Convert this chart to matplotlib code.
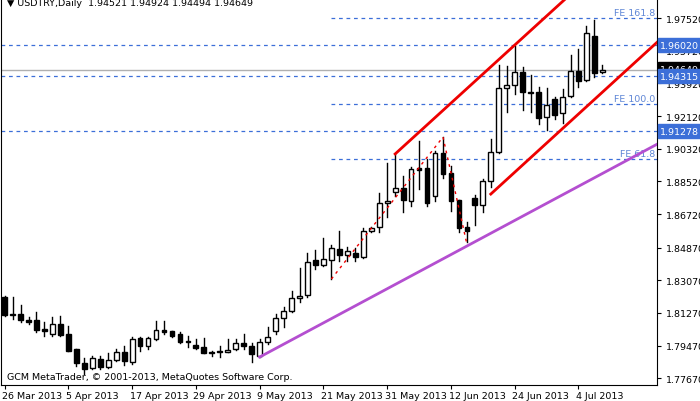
import matplotlib
matplotlib.use("Agg")
import matplotlib.pyplot as plt
from matplotlib.patches import Rectangle

# daily USDTRY candles, 26 Mar 2013 .. 8 Jul 2013
opens = [1.8215, 1.8116, 1.8121, 1.8088, 1.8088, 1.8039, 1.8011, 1.8066, 1.8011, 1.7928, 1.7851, 1.7824, 1.7873, 1.7829, 1.7868, 1.7912, 1.7857, 1.7989, 1.7945, 1.7983, 1.8033, 1.8027, 1.8011, 1.7972, 1.795, 1.7939, 1.7912, 1.7917, 1.7912, 1.7928, 1.7961, 1.7945, 1.789, 1.7967, 1.8027, 1.8099, 1.8138, 1.821, 1.8226, 1.8419, 1.8391, 1.8419, 1.8479, 1.8446, 1.8457, 1.8435, 1.8578, 1.86, 1.8733, 1.8793, 1.8815, 1.8744, 1.8926, 1.8926, 1.8771, 1.9008, 1.8898, 1.8749, 1.86, 1.876, 1.8721, 1.8854, 1.9014, 1.9366, 1.9383, 1.9454, 1.9344, 1.9344, 1.9207, 1.9306, 1.9228, 1.9322, 1.946, 1.941, 1.9653, 1.9452]
closes = [1.8116, 1.8116, 1.8088, 1.8077, 1.8033, 1.8027, 1.8066, 1.8005, 1.7917, 1.7851, 1.7818, 1.7879, 1.7829, 1.7868, 1.7912, 1.7862, 1.7983, 1.7945, 1.7989, 1.8033, 1.8022, 1.8, 1.7967, 1.7967, 1.7934, 1.7906, 1.7906, 1.7912, 1.7923, 1.7961, 1.7945, 1.7901, 1.7967, 1.7994, 1.8099, 1.8138, 1.821, 1.822, 1.8408, 1.8391, 1.8424, 1.8485, 1.8446, 1.8468, 1.8435, 1.8578, 1.8595, 1.8733, 1.8744, 1.8815, 1.8749, 1.892, 1.8915, 1.8733, 1.9008, 1.8892, 1.8744, 1.8595, 1.8578, 1.8721, 1.8854, 1.9014, 1.9366, 1.9383, 1.9454, 1.9344, 1.9339, 1.9201, 1.9273, 1.9218, 1.9317, 1.946, 1.9405, 1.967, 1.9449, 1.9465]
highs = [1.822, 1.8215, 1.8171, 1.8105, 1.8132, 1.8077, 1.8105, 1.811, 1.8055, 1.7928, 1.7879, 1.789, 1.789, 1.7906, 1.7928, 1.7945, 1.7994, 1.7994, 1.7994, 1.8083, 1.8083, 1.8027, 1.8022, 1.8, 1.7983, 1.7989, 1.7917, 1.7945, 1.7983, 1.7983, 1.8011, 1.7961, 1.7983, 1.805, 1.8121, 1.816, 1.8248, 1.8375, 1.8457, 1.8474, 1.854, 1.8501, 1.8578, 1.849, 1.8485, 1.8595, 1.86, 1.8788, 1.8953, 1.9003, 1.8881, 1.8931, 1.9074, 1.8975, 1.9019, 1.9096, 1.8937, 1.8749, 1.8628, 1.8777, 1.8865, 1.9085, 1.9493, 1.9488, 1.9598, 1.9482, 1.9438, 1.9372, 1.9366, 1.9317, 1.9361, 1.9548, 1.9581, 1.9708, 1.9741, 1.9492]
lows = [1.811, 1.8094, 1.8077, 1.8066, 1.8022, 1.8, 1.8, 1.8, 1.7917, 1.7835, 1.7791, 1.7818, 1.7818, 1.7824, 1.7862, 1.784, 1.7846, 1.7917, 1.7928, 1.7978, 1.8011, 1.7994, 1.7961, 1.7939, 1.7928, 1.7906, 1.789, 1.7884, 1.7912, 1.7923, 1.7928, 1.7857, 1.7884, 1.7956, 1.8011, 1.805, 1.8132, 1.8187, 1.8215, 1.8369, 1.8386, 1.8314, 1.8413, 1.8413, 1.8413, 1.843, 1.8573, 1.8573, 1.8656, 1.8771, 1.8683, 1.8716, 1.881, 1.8716, 1.8744, 1.887, 1.8689, 1.8573, 1.8518, 1.8612, 1.8683, 1.8821, 1.9008, 1.9234, 1.9333, 1.9245, 1.9234, 1.9168, 1.9135, 1.9196, 1.9173, 1.9317, 1.9372, 1.9405, 1.9427, 1.9449]

date_labels = ["26 Mar 2013", "5 Apr 2013", "17 Apr 2013", "29 Apr 2013", "9 May 2013",
               "21 May 2013", "31 May 2013", "12 Jun 2013", "24 Jun 2013", "4 Jul 2013"]
price_ticks = [1.9752, 1.9572, 1.9392, 1.9212, 1.9032, 1.8852, 1.8672, 1.8487, 1.8307, 1.8127, 1.7947, 1.7767]
price_labels = ["1.97520", "1.95720", "1.93920", "1.92120", "1.90320", "1.88520", "1.86720",
                "1.84870", "1.83070", "1.81270", "1.79470", "1.77670"]

# horizontal levels
hlines = [1.9602, 1.94315, 1.91278]
fe_levels = [1.9752, 1.9278, 1.8975]
fe_names = ["FE 161.8", "FE 100.0", "FE 61.8"]

# trend lines: (bar, price) pairs
upper_channel = ([49, 71], [1.9003, 1.9883])
lower_channel = ([61, 82], [1.8782, 1.9624])
support_line = ([32, 82], [1.7884, 1.9060])
zigzag = ([41, 55, 58], [1.8314, 1.9096, 1.8507])

fs = 6.8
fig = plt.figure(figsize=(7.0, 4.02), dpi=100)
ax = fig.add_axes([0.002, 16 / 402, 656 / 700, 1 - 16 / 402])
xmin, xmax = -0.4, 81.9
ymin, ymax = 1.7730, 1.98567
ax.set_xlim(xmin, xmax)
ax.set_ylim(ymin, ymax)

blue = "#3c6fd8"
for lv in hlines:
    ax.axhline(lv, color=blue, lw=0.9, ls=(0, (3, 3)), zorder=1)
for lv, nm in zip(fe_levels, fe_names):
    ax.plot([41, xmax], [lv, lv], color=blue, lw=0.9, ls=(0, (3, 3)), zorder=1)
    ax.text(xmax - 0.3, lv + 0.0008, nm, color="#5f86d6", fontsize=fs, ha="right", va="bottom")
ax.axhline(closes[-1], color="#b0b0b0", lw=1.0, zorder=1)

for i in range(len(opens)):
    o, c, h, l = opens[i], closes[i], highs[i], lows[i]
    ax.plot([i, i], [l, h], color="black", lw=1.0, zorder=3)
    lo, hi = min(o, c), max(o, c)
    face = "black" if c < o else "white"
    ax.add_patch(Rectangle((i - 0.3, lo), 0.6, max(hi - lo, 0.0003),
                           facecolor=face, edgecolor="black", lw=1.0, zorder=4))

ax.plot(*upper_channel, color="#ee0000", lw=2.0, zorder=5)
ax.plot(*lower_channel, color="#ee0000", lw=2.0, zorder=5)
ax.plot(*support_line, color="#b44fd0", lw=2.0, zorder=5)
ax.plot(*zigzag, color="#ee0000", lw=1.0, ls=(0, (2, 3)), zorder=5)

ax.set_xticks(range(0, 80, 8))
ax.set_xticklabels([])
ax.tick_params(axis="x", direction="out", length=3, color="black")
for k, lab in enumerate(date_labels):
    ax.text(k * 8 - 0.3, ymin - 0.0035, lab, fontsize=fs, ha="left", va="top", clip_on=False)

ax.yaxis.tick_right()
ax.set_yticks(price_ticks)
ax.set_yticklabels(price_labels, fontsize=fs)
ax.tick_params(axis="y", direction="out", length=3, pad=3)
ax.spines["top"].set_visible(False)

# price tags on the right axis
def tag(y, text, bg):
    ax.text(xmax + 0.35, y, text, fontsize=fs, color="white", ha="left", va="center",
            bbox=dict(boxstyle="square,pad=0.25", fc=bg, ec=bg), clip_on=False, zorder=10)

tag(closes[-1] + 0.0006, "1.94649", "black")
for lv in hlines:
    tag(lv, "%.5f" % lv, blue)

ax.text(0.3, 1.9835, "\u25bc USDTRY,Daily  1.94521 1.94924 1.94494 1.94649", fontsize=fs, va="center")
ax.text(0.3, 1.7775, "GCM MetaTrader, \u00a9 2001-2013, MetaQuotes Software Corp.", fontsize=fs, va="center")

plt.savefig("out.png", dpi=100)
